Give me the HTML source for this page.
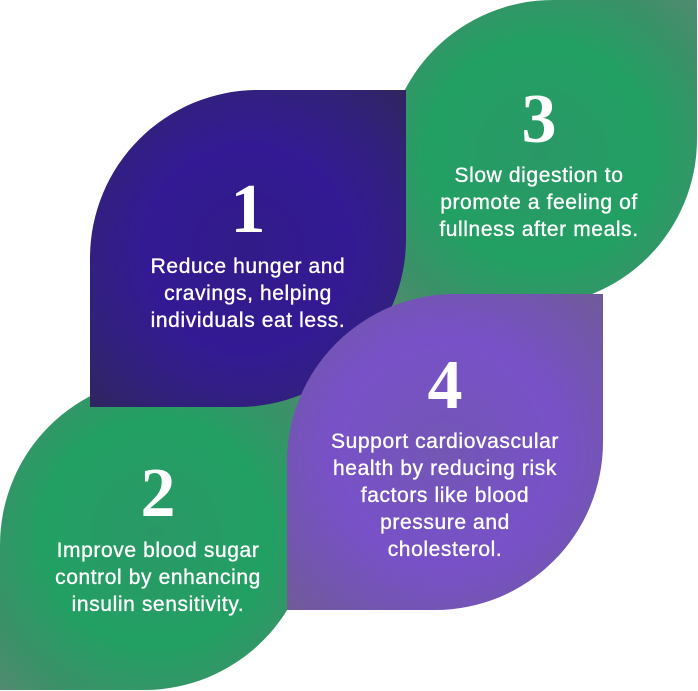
<!DOCTYPE html>
<html>
<head>
<meta charset="utf-8">
<style>
  html, body { margin: 0; padding: 0; background: #ffffff; }
  body { width: 698px; height: 691px; overflow: hidden; }
  svg { display: block; }
  .num { font-family: "Liberation Serif", serif; font-weight: bold; font-size: 70px; fill: #ffffff; }
  .txt { font-family: "Liberation Sans", sans-serif; font-size: 21px; fill: #ffffff; stroke: #ffffff; stroke-width: 0.35px; letter-spacing: 0.6px; }
</style>
</head>
<body>
<svg width="698" height="691" viewBox="0 0 698 691" xmlns="http://www.w3.org/2000/svg">
  <defs>
    <radialGradient id="gIndigo" cx="0.5" cy="0.5" r="0.72">
      <stop offset="0" stop-color="#311b88"/>
      <stop offset="0.45" stop-color="#331a94"/>
      <stop offset="0.75" stop-color="#31217a"/>
      <stop offset="1" stop-color="#30255d"/>
    </radialGradient>
    <radialGradient id="gGreen" cx="0.5" cy="0.5" r="0.72">
      <stop offset="0" stop-color="#2a9866"/>
      <stop offset="0.5" stop-color="#22a063"/>
      <stop offset="0.78" stop-color="#3a9168"/>
      <stop offset="1" stop-color="#528a70"/>
    </radialGradient>
    <radialGradient id="gPurple" cx="0.5" cy="0.5" r="0.72">
      <stop offset="0" stop-color="#7356b4"/>
      <stop offset="0.5" stop-color="#7851c8"/>
      <stop offset="0.78" stop-color="#7356ad"/>
      <stop offset="1" stop-color="#705c96"/>
    </radialGradient>
  </defs>

  <!-- Shape 3 (green, top-right) -->
  <path d="M386,167 A167,167 0 0 1 553,0 L697,0 L697,139 A167,167 0 0 1 530,306 L386,306 Z" fill="url(#gGreen)"/>
  <!-- Shape 2 (green, bottom-left) -->
  <path d="M0,545 A168,168 0 0 1 168,377 L312,377 L312,522 A168,168 0 0 1 144,690 L0,690 Z" fill="url(#gGreen)"/>
  <!-- Shape 1 (indigo) -->
  <path d="M90,258 A168,168 0 0 1 258,90 L406,90 L406,239 A168,168 0 0 1 238,407 L90,407 Z" fill="url(#gIndigo)"/>
  <!-- Shape 4 (purple) -->
  <path d="M287,462 A168,168 0 0 1 455,294 L603,294 L603,442 A168,168 0 0 1 435,610 L287,610 Z" fill="url(#gPurple)"/>

  <!-- 1 -->
  <text class="num" x="248" y="232" text-anchor="middle">1</text>
  <text class="txt" x="248" y="273" text-anchor="middle">Reduce hunger and</text>
  <text class="txt" x="248" y="300" text-anchor="middle">cravings, helping</text>
  <text class="txt" x="248" y="327" text-anchor="middle">individuals eat less.</text>

  <!-- 3 -->
  <text class="num" x="539" y="142" text-anchor="middle">3</text>
  <text class="txt" x="539" y="182" text-anchor="middle">Slow digestion to</text>
  <text class="txt" x="539" y="209" text-anchor="middle">promote a feeling of</text>
  <text class="txt" x="539" y="236" text-anchor="middle">fullness after meals.</text>

  <!-- 2 -->
  <text class="num" x="158" y="516" text-anchor="middle">2</text>
  <text class="txt" x="158" y="557" text-anchor="middle">Improve blood sugar</text>
  <text class="txt" x="158" y="584" text-anchor="middle">control by enhancing</text>
  <text class="txt" x="158" y="611" text-anchor="middle">insulin sensitivity.</text>

  <!-- 4 -->
  <text class="num" x="445" y="408" text-anchor="middle">4</text>
  <text class="txt" x="445" y="448" text-anchor="middle">Support cardiovascular</text>
  <text class="txt" x="445" y="475" text-anchor="middle">health by reducing risk</text>
  <text class="txt" x="445" y="502" text-anchor="middle">factors like blood</text>
  <text class="txt" x="445" y="529" text-anchor="middle">pressure and</text>
  <text class="txt" x="445" y="556" text-anchor="middle">cholesterol.</text>
</svg>
</body>
</html>
